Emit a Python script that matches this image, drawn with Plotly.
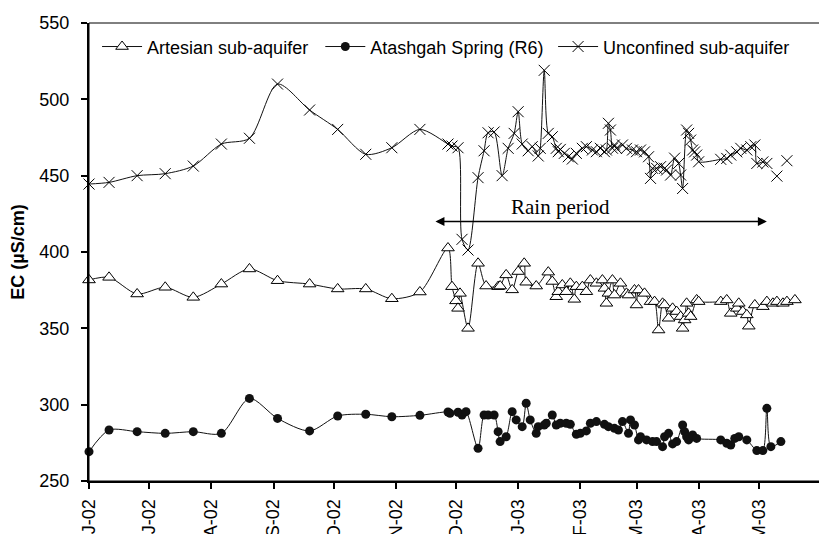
import plotly.graph_objects as go

# ---------------- data ----------------
month_ticks = ["2002-06-01", "2002-07-01", "2002-08-01", "2002-09-01", "2002-10-01",
               "2002-11-01", "2002-12-01", "2003-01-01", "2003-02-01", "2003-03-01",
               "2003-04-01", "2003-05-01", "2003-06-01"]
month_labels = ["J-02", "J-02", "A-02", "S-02", "O-02", "N-02", "D-02",
                "J-03", "F-03", "M-03", "A-03", "M-03", "J-03"]

unconf_dates = [
    "2002-06-01", "2002-06-11", "2002-06-25", "2002-07-09", "2002-07-23", "2002-08-06",
    "2002-08-20", "2002-09-03", "2002-09-19", "2002-10-03", "2002-10-17", "2002-10-30",
    "2002-11-13", "2002-11-27", "2002-11-29", "2002-12-02", "2002-12-04", "2002-12-07",
    "2002-12-12", "2002-12-15", "2002-12-17", "2002-12-20", "2002-12-24", "2002-12-27",
    "2002-12-30", "2003-01-01", "2003-01-03", "2003-01-06", "2003-01-08", "2003-01-11",
    "2003-01-12", "2003-01-14", "2003-01-16", "2003-01-18", "2003-01-20", "2003-01-21",
    "2003-01-22", "2003-01-24", "2003-01-26", "2003-01-28", "2003-01-30", "2003-02-02",
    "2003-02-04", "2003-02-07", "2003-02-09", "2003-02-11", "2003-02-13", "2003-02-14",
    "2003-02-15", "2003-02-16", "2003-02-17", "2003-02-18", "2003-02-19", "2003-02-22",
    "2003-02-24", "2003-02-27", "2003-03-01", "2003-03-03", "2003-03-05", "2003-03-07",
    "2003-03-08", "2003-03-09", "2003-03-11", "2003-03-13", "2003-03-15", "2003-03-16",
    "2003-03-18", "2003-03-20", "2003-03-22", "2003-03-23", "2003-03-24", "2003-03-26",
    "2003-03-27", "2003-03-28", "2003-03-29", "2003-03-30", "2003-03-31", "2003-04-01",
    "2003-04-12", "2003-04-15", "2003-04-17", "2003-04-20", "2003-04-22", "2003-04-25",
    "2003-04-27", "2003-04-29", "2003-04-30", "2003-05-03", "2003-05-05", "2003-05-07",
    "2003-05-10", "2003-05-12", "2003-05-15"]
unconf_ec = [
    444.5, 445.6, 450.0, 451.3, 456.3, 470.7,
    474.5, 510.0, 493.0, 480.3, 464.0, 468.3,
    480.3, 470.7, 469.4, 468.3, 408.3, 401.3,
    448.7, 466.3, 478.1, 478.6, 450.0, 467.9,
    477.7, 491.9, 470.7, 466.3, 469.0, 462.9,
    467.9, 519.0, 477.7, 475.5, 467.9, 465.7,
    467.2, 464.6, 462.4, 460.9, 464.6, 467.9,
    469.0, 466.8, 465.7, 467.9, 465.7, 466.8,
    484.3, 479.9, 468.0, 470.1, 467.9, 470.1,
    467.9, 466.8, 465.7, 466.8, 465.6, 462.4,
    448.2, 454.8, 454.8, 455.9, 454.8, 453.7,
    450.4, 461.5, 458.0, 450.4, 441.6, 479.9,
    477.7, 473.3, 466.8, 465.6, 463.5, 459.1,
    460.7, 461.3, 463.5, 465.6, 467.9, 466.8,
    469.0, 470.1, 458.0, 459.0, 458.0, None,
    449.7, None, 459.8]

artes_dates = [
    "2002-06-01", "2002-06-11", "2002-06-25", "2002-07-09", "2002-07-23", "2002-08-06",
    "2002-08-20", "2002-09-03", "2002-09-19", "2002-10-03", "2002-10-17", "2002-10-30",
    "2002-11-13", "2002-11-27", "2002-11-29", "2002-12-01", "2002-12-02", "2002-12-03",
    "2002-12-07", "2002-12-12", "2002-12-16", "2002-12-22", "2002-12-23", "2002-12-26",
    "2002-12-29", "2003-01-01", "2003-01-04", "2003-01-05", "2003-01-10", "2003-01-16",
    "2003-01-18", "2003-01-20", "2003-01-21", "2003-01-23", "2003-01-25", "2003-01-27",
    "2003-01-29", "2003-01-30", "2003-02-02", "2003-02-04", "2003-02-06", "2003-02-09",
    "2003-02-12", "2003-02-13", "2003-02-14", "2003-02-15", "2003-02-17", "2003-02-18",
    "2003-02-21", "2003-02-24", "2003-02-25", "2003-02-28", "2003-03-01", "2003-03-02",
    "2003-03-05", "2003-03-08", "2003-03-10", "2003-03-12", "2003-03-14", "2003-03-15",
    "2003-03-17", "2003-03-19", "2003-03-21", "2003-03-23", "2003-03-24", "2003-03-25",
    "2003-03-26", "2003-03-27", "2003-03-28", "2003-03-31", "2003-04-01", "2003-04-12",
    "2003-04-15", "2003-04-17", "2003-04-20", "2003-04-21", "2003-04-23", "2003-04-25",
    "2003-04-26", "2003-04-29", "2003-05-03", "2003-05-05", "2003-05-08", "2003-05-10",
    "2003-05-13", "2003-05-15", "2003-05-19"]
artes_ec = [
    381.7, 383.4, 372.5, 376.9, 370.3, 379.0,
    388.9, 381.2, 379.0, 375.8, 375.8, 369.4,
    373.8, 402.6, 377.3, 368.0, 363.1, 372.9,
    350.0, 392.6, 377.7, 377.3, 377.7, 385.0,
    375.2, 387.2, 392.6, 380.2, 377.7, 386.8,
    380.7, 370.7, 374.0, 378.4, 374.0, 379.5,
    369.0, 377.3, 377.3, 374.0, 381.6, 379.5,
    381.6, 376.2, 366.4, 372.9, 381.6, 371.8,
    379.5, 372.9, 371.8, 375.1, 365.3, 375.1,
    372.9, 367.5, 367.5, 348.9, 366.4, 365.3,
    356.6, 363.1, 361.0, 357.7, 350.0, 355.5,
    366.4, 359.8, 357.7, 368.6, 367.5, 367.5,
    368.6, 359.8, 363.1, 366.4, 361.0, 358.8,
    351.4, 365.3, 364.2, 367.5, 366.4, 367.5,
    366.4, 367.5, 368.6]

spring_dates = [
    "2002-06-01", "2002-06-11", "2002-06-25", "2002-07-09", "2002-07-23", "2002-08-06",
    "2002-08-20", "2002-09-03", "2002-09-19", "2002-10-03", "2002-10-17", "2002-10-30",
    "2002-11-13", "2002-11-27", "2002-11-28", "2002-12-02", "2002-12-04", "2002-12-06",
    "2002-12-12", "2002-12-15", "2002-12-17", "2002-12-20", "2002-12-22", "2002-12-23",
    "2002-12-26", "2002-12-29", "2002-12-31", "2003-01-03", "2003-01-05", "2003-01-07",
    "2003-01-10", "2003-01-11", "2003-01-14", "2003-01-15", "2003-01-18", "2003-01-20",
    "2003-01-22", "2003-01-25", "2003-01-27", "2003-01-30", "2003-02-01", "2003-02-04",
    "2003-02-06", "2003-02-09", "2003-02-13", "2003-02-15", "2003-02-18", "2003-02-20",
    "2003-02-22", "2003-02-25", "2003-02-26", "2003-02-28", "2003-03-02", "2003-03-03",
    "2003-03-06", "2003-03-09", "2003-03-11", "2003-03-14", "2003-03-15", "2003-03-17",
    "2003-03-19", "2003-03-21", "2003-03-24", "2003-03-25", "2003-03-26", "2003-03-27",
    "2003-03-29", "2003-03-31", "2003-04-12", "2003-04-15", "2003-04-17", "2003-04-19",
    "2003-04-21", "2003-04-25", "2003-04-30", "2003-05-03", "2003-05-05", "2003-05-07",
    "2003-05-12"]
spring_ec = [
    269.2, 283.4, 282.3, 281.2, 282.3, 281.2,
    304.1, 291.0, 282.8, 292.6, 293.7, 292.1,
    293.0, 295.2, 294.3, 295.0, 293.2, 295.4,
    271.4, 293.2, 293.2, 293.2, 282.3, 275.8,
    279.0, 295.4, 290.0, 285.6, 300.9, 290.0,
    281.2, 285.6, 286.7, 287.8, 293.2, 286.7,
    287.8, 287.8, 287.1, 280.6, 281.2, 282.8,
    287.8, 288.9, 287.1, 285.6, 284.5, 283.4,
    288.9, 281.2, 290.0, 286.7, 276.9, 279.0,
    276.9, 275.8, 275.8, 272.5, 279.0, 281.2,
    274.3, 275.8, 286.7, 282.3, 279.0, 276.9,
    280.1, 277.9, 276.9, 274.7, 273.6, 277.9,
    279.0, 276.9, 269.9, 269.9, 297.6, 272.5,
    275.8]

rain_start, rain_end, rain_level = "2002-11-20", "2003-05-05", 420
rain_label_date = "2003-01-22"

# ---------------- figure ----------------
# The page body has an 8 px default margin, so the figure is drawn 8 px smaller
# and the margins are reduced by 8 px to land on the reference's pixel grid.
FONT = "Liberation Sans, Arial, sans-serif"
line_style = dict(color="#111111", width=1, shape="spline", smoothing=0.8)

fig = go.Figure()
fig.add_trace(go.Scatter(
    x=artes_dates, y=artes_ec, name="Artesian sub-aquifer", mode="lines+markers",
    line=line_style, cliponaxis=False, legend="legend",
    marker=dict(symbol="triangle-up", size=11, color="white",
                line=dict(color="black", width=1))))
fig.add_trace(go.Scatter(
    x=spring_dates, y=spring_ec, name="Atashgah Spring (R6)", mode="lines+markers",
    line=line_style, cliponaxis=False, legend="legend2",
    marker=dict(symbol="circle", size=9, color="#111111",
                line=dict(color="#111111", width=0))))
fig.add_trace(go.Scatter(
    x=unconf_dates, y=unconf_ec, name="Unconfined sub-aquifer", mode="lines+markers",
    line=line_style, cliponaxis=False, connectgaps=False, legend="legend3",
    marker=dict(symbol="x-thin", size=11, color="black",
                line=dict(color="black", width=1))))

fig.add_annotation(x=rain_end, y=rain_level, ax=rain_start, ay=rain_level,
                   xref="x", yref="y", axref="x", ayref="y", text="",
                   showarrow=True, arrowside="end+start", arrowhead=2,
                   arrowsize=1.2, arrowwidth=1.5, arrowcolor="black",
                   standoff=0, startstandoff=0)
fig.add_annotation(x=rain_label_date, y=rain_level, xref="x", yref="y",
                   text="Rain period", showarrow=False, yanchor="bottom", yshift=0,
                   font=dict(family="Liberation Serif, Times New Roman, serif",
                             size=21, color="black"))

fig.add_shape(type="rect", xref="paper", yref="paper", x0=0, x1=1, y0=0, y1=1,
              line=dict(color="black", width=1), layer="above")

leg_common = dict(orientation="h", xanchor="left", y=0.948, yanchor="middle",
                  font=dict(size=18, family=FONT), bgcolor="rgba(0,0,0,0)",
                  itemwidth=40)

fig.update_layout(
    width=819, height=526,
    margin=dict(l=81, r=6, t=15, b=53, autoexpand=False),
    paper_bgcolor="white", plot_bgcolor="white",
    font=dict(family=FONT, size=18, color="black"),
    showlegend=True,
    legend=dict(x=0.011, **leg_common),
    legend2=dict(x=0.316, **leg_common),
    legend3=dict(x=0.634, **leg_common),
    xaxis=dict(type="date", range=["2002-06-01", "2003-06-01"], automargin=False,
               tickvals=month_ticks, ticktext=month_labels, tickangle=-90,
               showgrid=False, zeroline=False, showline=True, linecolor="black",
               linewidth=2, ticks="outside", ticklen=6, tickwidth=1.5,
               tickcolor="black", tickfont=dict(size=18), ticklabelstandoff=3),
    yaxis=dict(range=[250, 550], tickmode="linear", tick0=250, dtick=50, automargin=False,
               showgrid=False, zeroline=False, showline=True, linecolor="black",
               linewidth=2, ticks="outside", ticklen=6, tickwidth=1.5,
               tickcolor="black", tickfont=dict(size=18), ticklabelstandoff=8,
               title=dict(text="<b>EC (µS/cm)</b>", font=dict(size=18), standoff=18)),
)

fig.write_html("out.html")
